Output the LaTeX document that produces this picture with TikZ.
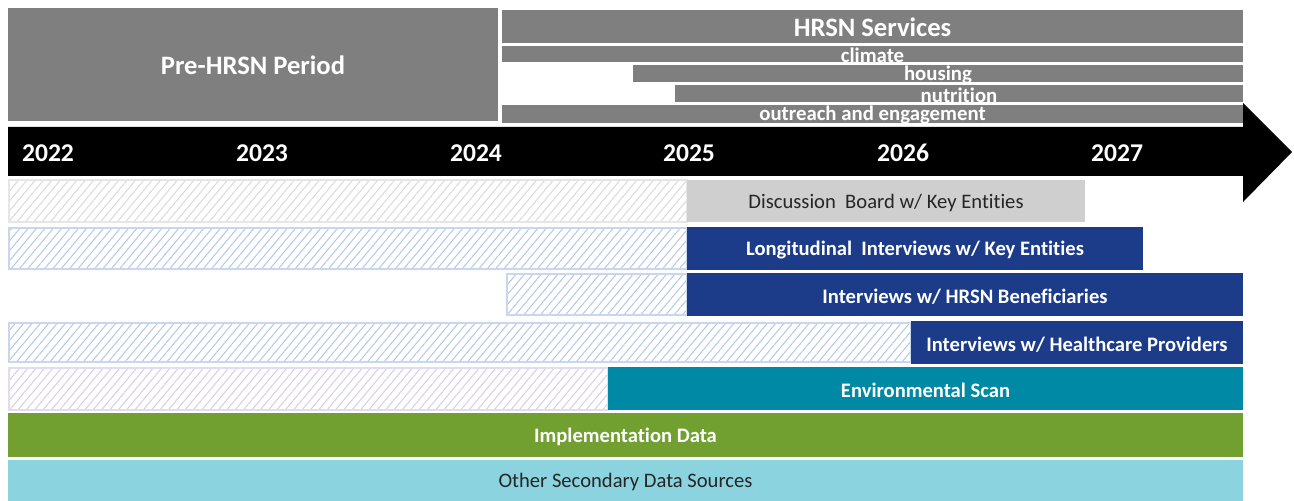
\documentclass[tikz,border=0pt]{standalone}
\usepackage{fontspec}
\setmainfont{Carlito}[Ligatures=NoCommon]
\usetikzlibrary{patterns.meta}
\definecolor{hdrgray}{HTML}{7F7F7F}
\definecolor{discgray}{HTML}{CFCFCF}
\definecolor{darkblue}{HTML}{1C3C8A}
\definecolor{teal}{HTML}{0089A4}
\definecolor{green}{HTML}{71A031}
\definecolor{lightblue}{HTML}{8BD3DE}
\definecolor{txtdark}{HTML}{262626}
\definecolor{hgray}{HTML}{D9D9D9}
\definecolor{hgrayb}{HTML}{E6E6E6}
\definecolor{hblue}{HTML}{B4C7E7}
\definecolor{hblueb}{HTML}{C8D6EE}
\definecolor{hpurp}{HTML}{D6CDE4}
\definecolor{hpurpb}{HTML}{E3DCEC}
\tikzset{
  barbox/.style={inner sep=0pt, outer sep=0pt, draw=none},
  hdr/.style={barbox, fill=hdrgray},
  hatchgray/.style={barbox, draw=hgrayb, line width=0.6pt, pattern={Lines[angle=50,distance=3.2pt,line width=0.5pt]}, pattern color=hgray},
  hatchblue/.style={barbox, draw=hblueb, line width=0.6pt, pattern={Lines[angle=50,distance=3.2pt,line width=0.5pt]}, pattern color=hblue},
  hatchpurp/.style={barbox, draw=hpurpb, line width=0.6pt, pattern={Lines[angle=50,distance=3.2pt,line width=0.5pt]}, pattern color=hpurp},
  bigtxt/.style={font=\fontsize{13.3}{14}\selectfont\bfseries, text=white, inner sep=0pt, yshift=-0.5pt},
  smalltxt/.style={font=\fontsize{10.4}{11}\selectfont\bfseries, text=white, inner sep=0pt, yshift=-0.7pt},
  rowtxt/.style={font=\fontsize{10.3}{11}\selectfont\bfseries, text=white, inner sep=0pt, yshift=-1pt},
  rowtxtdark/.style={font=\fontsize{10.3}{11}\selectfont, text=txtdark, inner sep=0pt, yshift=-1pt},
  yeartxt/.style={font=\fontsize{12.8}{14}\selectfont\bfseries, text=white, inner sep=0pt},
}
% #1 name, #2 box style, #3 x1, #4 y1, #5 x2, #6 y2, #7 text style, #8 text
\newcommand\barnode[8]{%
  \node[#2, minimum width={(#5-#3)*0.5pt}, minimum height={(#6-#4)*0.5pt}] (#1) at ({(#3+#5)/2},{(#4+#6)/2}) {};
  \node[#7] (#1-t) at (#1.center) {#8};}
\begin{document}
\begin{tikzpicture}[x={(0.5pt,0)}, y={(0,-0.5pt)}]
\useasboundingbox (0,0) rectangle (1294,501);
% timeline arrow
\path[fill=black] (8,127) coordinate (a1) -- (1243,127) -- (1243,103) -- (1292,152) coordinate (tip) -- (1243,202) -- (1243,176) -- (8,176) -- cycle;
% header
\barnode{pre}{hdr}{8}{8}{498}{121}{bigtxt}{Pre-HRSN Period}
\barnode{srv}{hdr}{502}{10}{1243}{43}{bigtxt}{HRSN Services}
\barnode{clim}{hdr}{502}{46}{1243}{62}{smalltxt}{climate}
\barnode{hous}{hdr}{633}{65}{1243}{82}{smalltxt}{housing}
\barnode{nutr}{hdr}{675}{85}{1243}{102}{smalltxt}{nutrition}
\barnode{outr}{hdr}{502}{105}{1243}{123}{smalltxt}{outreach and engagement}
% years
\node[yeartxt] (y22) at (48,153) {2022};
\node[yeartxt] (y23) at (262,153) {2023};
\node[yeartxt] (y24) at (476,153) {2024};
\node[yeartxt] (y25) at (689,153) {2025};
\node[yeartxt] (y26) at (903,153) {2026};
\node[yeartxt] (y27) at (1117,153) {2027};
% rows
\barnode{h1}{hatchgray}{9}{180}{687}{222}{rowtxt}{}
\barnode{disc}{barbox, fill=discgray}{687}{180}{1085}{222}{rowtxtdark}{Discussion\ \ Board w/ Key Entities}
\barnode{h2}{hatchblue}{9}{228}{687}{269}{rowtxt}{}
\barnode{longi}{barbox, fill=darkblue}{687}{227}{1143}{270}{rowtxt}{Longitudinal\ \ Interviews w/ Key Entities}
\barnode{h3}{hatchblue}{507}{274}{687}{315}{rowtxt}{}
\barnode{benef}{barbox, fill=darkblue}{687}{273}{1243}{316}{rowtxt}{Interviews w/ HRSN Beneficiaries}
\barnode{h4}{hatchblue}{9}{323}{911}{362}{rowtxt}{}
\barnode{prov}{barbox, fill=darkblue}{911}{321}{1243}{364}{rowtxt}{Interviews w/ Healthcare Providers}
\barnode{h5}{hatchpurp}{9}{368}{608}{410}{rowtxt}{}
\barnode{env}{barbox, fill=teal}{608}{367}{1243}{410}{rowtxt}{Environmental Scan}
\barnode{impl}{barbox, fill=green}{8}{413}{1243}{457}{rowtxt}{Implementation Data}
\barnode{other}{barbox, fill=lightblue}{8}{460}{1243}{501}{rowtxtdark}{Other Secondary Data Sources}
\end{tikzpicture}
\end{document}
